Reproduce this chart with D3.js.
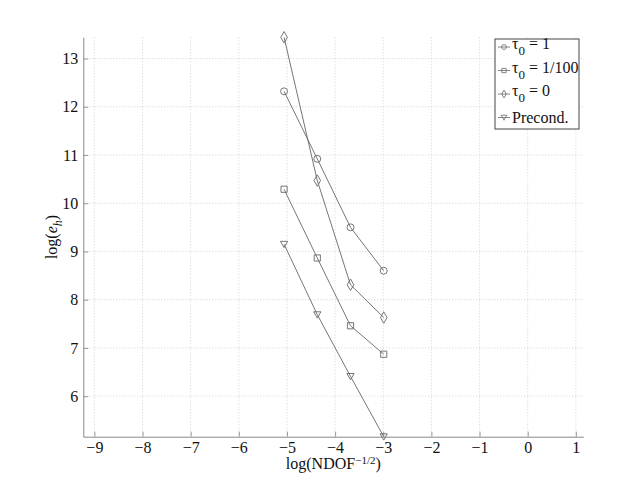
<!DOCTYPE html>
<html>
<head>
<meta charset="utf-8">
<script src="https://cdn.jsdelivr.net/npm/d3@7"></script>
<style>
  body { margin: 0; background: #fff; }
  svg text { font-family: "Liberation Serif", "Times New Roman", serif !important; }
</style>
</head>
<body>
<div id="chart"></div>
<script>
// data
const xVals = [-5.06, -4.37, -3.68, -2.99];
const tau1 = [12.32, 10.92, 9.50, 8.60];
const tau100 = [10.29, 8.865, 7.46, 6.87];
const tau0 = [13.44, 10.47, 8.31, 7.63];
const precond = [9.15, 7.69, 6.41, 5.16];
const xTicks = [-9, -8, -7, -6, -5, -4, -3, -2, -1, 0, 1];
const yTicks = [6, 7, 8, 9, 10, 11, 12, 13];

const series = [
  {name: 'tau1', sym: d3.symbolCircle, vals: tau1, lab: ['τ', '0', ' = 1']},
  {name: 'tau100', sym: d3.symbolSquare, vals: tau100, lab: ['τ', '0', ' = 1/100']},
  {name: 'tau0', sym: d3.symbolDiamond, vals: tau0, lab: ['τ', '0', ' = 0']},
  {name: 'precond', sym: 'tri', vals: precond, lab: ['Precond.', '', '']}
];

const W = 644, H = 491;
const margin = {top: 37.3, right: 60.7, bottom: 54.3, left: 83.3};
const width = W - margin.left - margin.right;
const height = H - margin.top - margin.bottom;

const allY = [].concat(tau1, tau100, tau0, precond);

const x = d3.scaleLinear().domain([-9.23, 1.155]).range([0, width]);
const y = d3.scaleLinear().domain(d3.extent(allY)).range([height, 0]);

const svg = d3.select('#chart').append('svg')
  .attr('width', W).attr('height', H);
const g = svg.append('g')
  .attr('transform', `translate(${margin.left},${margin.top})`);

// grid
g.append('g').selectAll('line').data(xTicks).join('line')
  .attr('x1', d => x(d)).attr('x2', d => x(d))
  .attr('y1', 0).attr('y2', height)
  .attr('stroke', '#c8c8c8').attr('stroke-width', 0.8)
  .attr('stroke-dasharray', '1,2');
g.append('g').selectAll('line').data(yTicks).join('line')
  .attr('x1', 0).attr('x2', width)
  .attr('y1', d => y(d)).attr('y2', d => y(d))
  .attr('stroke', '#c8c8c8').attr('stroke-width', 0.8)
  .attr('stroke-dasharray', '1,2');

// axes, ticks inward
const xAxis = g.append('g')
  .attr('transform', `translate(0,${height})`)
  .call(d3.axisBottom(x).tickValues(xTicks).tickSize(-5).tickPadding(5).tickSizeOuter(0));
const yAxis = g.append('g')
  .call(d3.axisLeft(y).tickValues(yTicks).tickSize(-5).tickPadding(5).tickSizeOuter(0));
[xAxis, yAxis].forEach(a => {
  a.attr('font-size', 16);
  a.select('.domain').attr('stroke', '#888');
  a.selectAll('.tick line').attr('stroke', '#999');
  a.selectAll('.tick text').attr('fill', '#111');
});

// markers
const triPath = s => `M${-s},${-s * 0.8}L${s},${-s * 0.8}L0,${s * 0.95}Z`;
function marker(sel, sym, size) {
  if (sym === 'tri') {
    sel.attr('d', triPath(size * 0.12));
  } else {
    sel.attr('d', d3.symbol().type(sym).size(size * size * 0.9)());
  }
}

const line = d3.line().x((d, i) => x(xVals[i])).y(d => y(d));

series.forEach(s => {
  g.append('path')
    .datum(s.vals)
    .attr('d', line)
    .attr('fill', 'none')
    .attr('stroke', '#666')
    .attr('stroke-width', 0.9);
  g.append('g').selectAll('path').data(s.vals).join('path')
    .attr('transform', (d, i) => `translate(${x(xVals[i])},${y(d)})`)
    .call(sel => marker(sel, s.sym, s.sym === 'tri' ? 30 : 6.5))
    .attr('fill', 'none')
    .attr('stroke', '#666')
    .attr('stroke-width', 0.9);
});

// legend
const leg = svg.append('g').attr('transform', 'translate(495,39)');
leg.append('rect')
  .attr('width', 84).attr('height', 90)
  .attr('fill', '#fff').attr('stroke', '#444').attr('stroke-width', 1);
series.forEach((s, i) => {
  const ly = 8 + i * 23.5;
  const row = leg.append('g').attr('transform', `translate(0,${ly})`);
  row.append('line').attr('x1', 3).attr('x2', 15)
    .attr('stroke', '#777').attr('stroke-width', 0.9);
  row.append('path')
    .attr('transform', 'translate(9,0)')
    .call(sel => marker(sel, s.sym, s.sym === 'tri' ? 24 : 4.5))
    .attr('fill', 'none').attr('stroke', '#777').attr('stroke-width', 0.9);
  const t = row.append('text').attr('x', 17).attr('y', s.lab[1] ? 2 : 5)
    .attr('font-size', 16).attr('fill', '#111');
  t.append('tspan').text(s.lab[0]);
  if (s.lab[1]) {
    t.append('tspan').attr('font-size', 13).attr('dy', 6).text(s.lab[1]);
    t.append('tspan').attr('dy', -6).text(s.lab[2]);
  }
});

// axis titles
const xl = svg.append('text')
  .attr('x', margin.left + width / 2).attr('y', 469)
  .attr('text-anchor', 'middle').attr('font-size', 16).attr('fill', '#111');
xl.append('tspan').text('log(NDOF');
xl.append('tspan').attr('font-size', 11).attr('dy', -5).text('−1/2');
xl.append('tspan').attr('dy', 5).text(')');

const yl = svg.append('text')
  .attr('transform', `translate(57,${margin.top + height / 2}) rotate(-90)`)
  .attr('text-anchor', 'middle').attr('font-size', 16).attr('fill', '#111');
yl.append('tspan').text('log(');
yl.append('tspan').attr('font-style', 'italic').text('e');
yl.append('tspan').attr('font-style', 'italic').attr('font-size', 12).attr('dy', 5).text('h');
yl.append('tspan').attr('dy', -5).text(')');
</script>
</body>
</html>
